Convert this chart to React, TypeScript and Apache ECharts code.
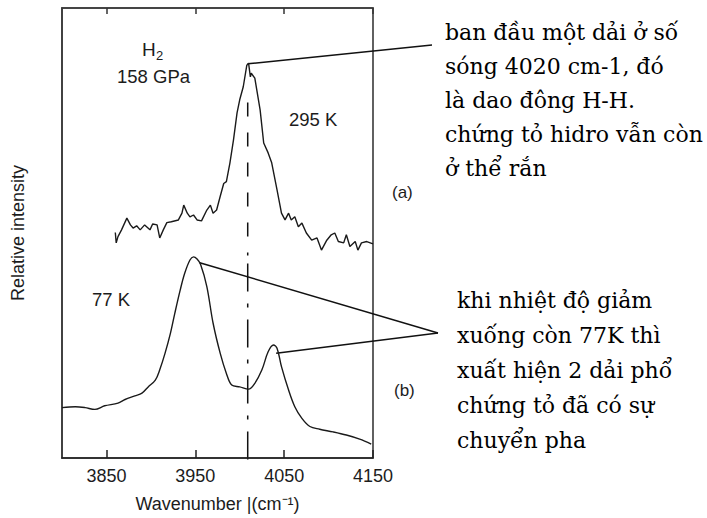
import React, { useEffect, useRef } from "react";
import * as echarts from "echarts";

// x axis ticks (cm-1)
const xTicks = [3850, 3950, 4050, 4150];

// (a) 295 K spectrum
const waveA = [3860, 3861, 3863, 3867, 3873, 3877, 3880, 3884, 3888, 3893, 3899, 3902, 3907, 3910, 3914, 3918, 3923, 3931, 3935, 3937, 3941, 3944, 3948, 3952, 3957, 3963, 3967, 3970, 3974, 3978, 3982, 3985, 3989, 3993, 3997, 4000, 4004, 4008, 4010, 4012, 4013, 4017, 4023, 4027, 4032, 4036, 4042, 4047, 4051, 4055, 4058, 4062, 4066, 4070, 4075, 4081, 4087, 4092, 4098, 4103, 4107, 4111, 4117, 4120, 4124, 4130, 4133, 4137, 4143, 4150];
const intA = [50.1, 47.8, 49.2, 50.7, 53.3, 51.8, 51.1, 51.6, 50.7, 51.8, 50.7, 52.0, 51.8, 48.9, 50.7, 52.3, 52.5, 52.9, 54.4, 56.2, 54.4, 53.6, 54.0, 52.9, 52.7, 55.1, 56.2, 54.4, 55.1, 58.1, 61.0, 61.4, 65.6, 70.7, 76.7, 79.6, 82.5, 87.3, 87.7, 84.7, 85.5, 84.4, 77.3, 70.0, 67.8, 65.6, 59.6, 54.4, 52.9, 54.4, 52.9, 53.6, 51.4, 52.2, 50.0, 48.4, 48.9, 46.2, 48.4, 49.6, 50.0, 48.1, 47.8, 49.6, 47.0, 48.1, 46.2, 47.8, 48.1, 47.6];

// (b) 77 K spectrum
const waveB = [3800, 3815, 3826, 3837, 3848, 3863, 3871, 3882, 3890, 3897, 3905, 3910, 3916, 3922, 3927, 3933, 3938, 3944, 3948, 3952, 3956, 3963, 3970, 3978, 3985, 3991, 4000, 4010, 4017, 4025, 4032, 4038, 4042, 4047, 4055, 4062, 4070, 4079, 4090, 4105, 4120, 4135, 4148];
const intB = [11.2, 11.4, 11.2, 10.8, 11.6, 12.2, 13.0, 13.8, 14.4, 15.8, 17.3, 19.6, 23.3, 27.7, 32.2, 37.3, 41.0, 44.0, 44.7, 44.2, 43.0, 38.1, 30.0, 23.3, 18.8, 16.2, 15.8, 15.3, 16.6, 19.6, 23.6, 25.1, 24.4, 20.3, 15.1, 11.4, 8.8, 7.0, 6.4, 5.8, 5.1, 4.2, 3.1];

// reference wavenumber line and annotation anchors (data coords)
const refWave = 4009;
const refTop = 79;
const refMid = 45;
const anchorA = [4009, 87.6];
const anchorB1 = [3955, 43.4];
const anchorB2 = [4041, 23.3];

const note1 = "ban đầu một dải ở số\nsóng 4020 cm-1, đó\nlà dao đông H-H.\nchứng tỏ hidro vẫn còn\nở thể rắn";
const note2 = "khi nhiệt độ giảm\nxuống còn 77K thì\nxuất hiện 2 dải phổ\nchứng tỏ đã có sự\nchuyển pha";

const ink = "#1c1c1c";
const sans = "'Liberation Sans', Arial, sans-serif";
const serif = "'DejaVu Serif', serif";

export default function App() {
  const ref = useRef<HTMLDivElement>(null);
  useEffect(() => {
    document.body.style.margin = "0";
    const chart = echarts.init(ref.current!, null, { renderer: "svg" });
    const option: any = {
      animation: false,
      backgroundColor: "#fff",
      grid: { left: 62, right: 334, top: 8, bottom: 60, show: true, borderColor: "#3a3a3a", borderWidth: 1.6 },
      xAxis: [
        {
          type: "value", min: 3800, max: 4150, position: "bottom",
          axisLine: { show: true, lineStyle: { color: "#222", width: 1.6 } },
          axisTick: { show: true, inside: true, length: 8, customValues: xTicks, lineStyle: { color: "#222", width: 1.5 } },
          axisLabel: { customValues: xTicks, formatter: (v: number) => String(v), color: ink, fontSize: 18, fontFamily: sans, margin: 9 },
          splitLine: { show: false },
          name: "Wavenumber |(cm⁻¹)", nameLocation: "middle", nameGap: 37,
          nameTextStyle: { color: ink, fontSize: 18, fontFamily: sans },
        },
        {
          type: "value", min: 3800, max: 4150, position: "top",
          axisLine: { show: true, lineStyle: { color: "#3a3a3a", width: 1.6 } },
          axisTick: { show: true, inside: true, length: 6, customValues: xTicks, lineStyle: { color: "#333", width: 1.5 } },
          axisLabel: { show: false },
          splitLine: { show: false },
        },
      ],
      yAxis: {
        type: "value", min: 0, max: 100,
        axisLine: { show: true, lineStyle: { color: "#3a3a3a", width: 1.6 } },
        axisTick: { show: false }, axisLabel: { show: false }, splitLine: { show: false },
        name: "Relative intensity", nameLocation: "middle", nameGap: 35,
        nameTextStyle: { color: ink, fontSize: 18, fontFamily: sans },
      },
      series: [
        {
          name: "295 K", type: "line", showSymbol: false, smooth: false,
          data: waveA.map((w, i) => [w, intA[i]]),
          lineStyle: { color: "#1a1a1a", width: 1.4 },
        },
        {
          name: "77 K", type: "line", showSymbol: false, smooth: 0.35,
          data: waveB.map((w, i) => [w, intB[i]]),
          lineStyle: { color: "#1a1a1a", width: 1.4 },
        },
      ],
    };
    chart.setOption(option);
    const px = (v: number[]) => chart.convertToPixel({ xAxisIndex: 0, yAxisIndex: 0 }, v) as number[];
    const a = px(anchorA);
    const b1 = px(anchorB1);
    const b2 = px(anchorB2);
    const dTop = px([refWave, refTop]);
    const dMid = px([refWave, refMid]);
    const dBot = px([refWave, 0]);
    const tip = [438, 333];
    const lineStyle = { stroke: "#111", lineWidth: 1.5 };
    const txt = (text: string, x: number, y: number, size: number, extra: any = {}) => ({
      type: "text", x, y,
      style: { text, fill: ink, fontSize: size, fontFamily: sans, verticalAlign: "middle", ...extra },
    });
    chart.setOption({
      graphic: [
        { type: "line", shape: { x1: dTop[0], y1: dTop[1], x2: dMid[0], y2: dMid[1] }, style: { ...lineStyle, lineDash: [14, 16] } },
        { type: "line", shape: { x1: dMid[0], y1: dMid[1] + 8, x2: dBot[0], y2: dBot[1] + 5 }, style: { ...lineStyle, lineDash: [28, 12, 4, 12] } },
        { type: "line", shape: { x1: a[0], y1: a[1], x2: 432, y2: 45 }, style: lineStyle },
        { type: "line", shape: { x1: b1[0], y1: b1[1], x2: tip[0], y2: tip[1] }, style: lineStyle },
        { type: "line", shape: { x1: b2[0], y1: b2[1], x2: tip[0], y2: tip[1] }, style: lineStyle },
        txt("H", 142, 49, 19),
        txt("2", 156, 55, 13),
        txt("158 GPa", 117, 76, 18.5),
        txt("295 K", 289, 119, 18.5),
        txt("77 K", 92, 299, 18.5),
        txt("(a)", 392, 192, 17),
        txt("(b)", 394, 390, 17),
        { type: "text", x: 445, y: 15, style: { text: note1, fill: "#000", fontSize: 22, fontFamily: serif, lineHeight: 34, verticalAlign: "top" } },
        { type: "text", x: 457, y: 283, style: { text: note2, fill: "#000", fontSize: 22, fontFamily: serif, lineHeight: 35, verticalAlign: "top" } },
      ],
    });
    return () => chart.dispose();
  }, []);
  return <div ref={ref} style={{ width: 707, height: 518 }} />;
}
